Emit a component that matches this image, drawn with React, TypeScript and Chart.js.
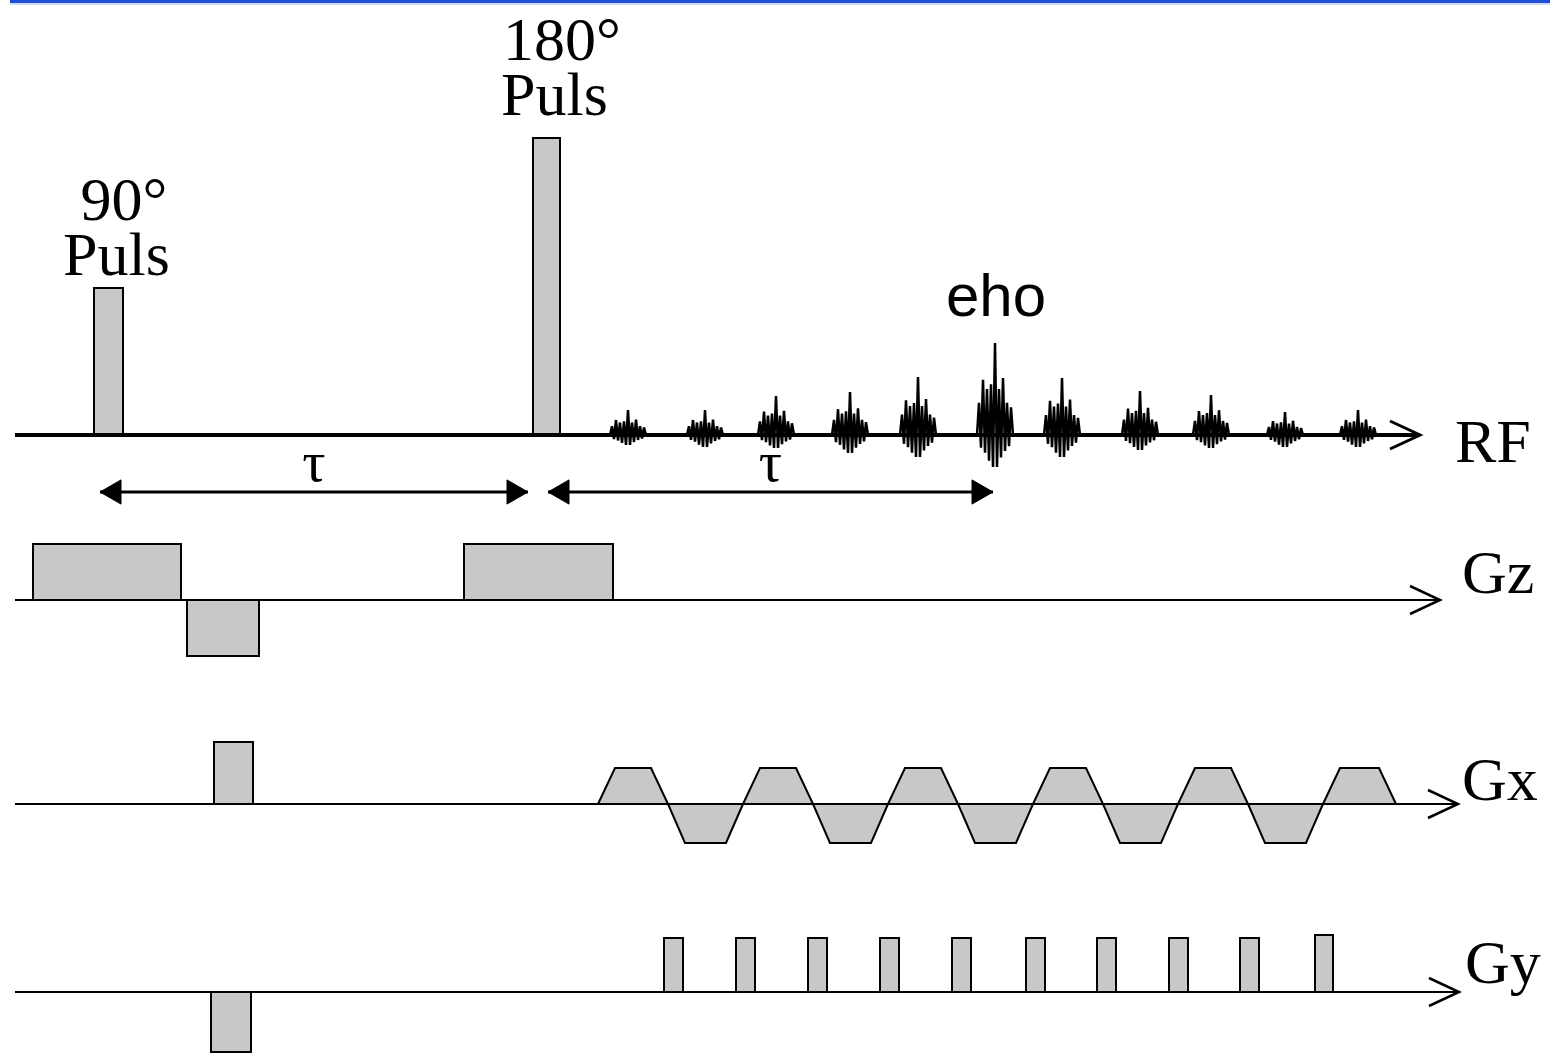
import React, { useEffect, useRef } from 'react';
import { Chart, registerables } from 'chart.js';

Chart.register(...registerables);

const W = 1550;
const H = 1054;

// ---- rows (layout) ----
const ROW_NAMES = ['RF', 'Gz', 'Gx', 'Gy'];
const ROW_BASELINES = [435, 600, 804, 992];
const AXIS_START = 15;
const AXIS_ENDS = [1420, 1440, 1458, 1459];

// ---- RF pulses ----
const RF_PULSE_NAMES = ['90°', '180°'];
const RF_PULSE_START = [94, 533];
const RF_PULSE_END = [123, 560];
const RF_PULSE_AMP = [147, 297];

// ---- echo train ----
const ECHO_LABEL = 'eho';
const ECHO_CENTERS = [628, 705, 776, 850, 918, 995, 1062, 1140, 1211, 1285, 1358];
const ECHO_UP = [25, 25, 39, 43, 58, 92, 57, 44, 40, 23, 25];
const ECHO_DOWN = [10, 12, 13, 18, 22, 32, 22, 15, 13, 12, 12];
const ECHO_OFFSETS = [-18, -16, -14, -12, -10, -8, -6, -4, -2, 0, 2, 4, 6, 8, 10, 12, 14, 16, 18];
const ECHO_SHAPE = [0, 0.35, -0.4, 0.6, -0.55, 0.5, -0.8, 0.55, -1, 1, -1, 0.5, -0.7, 0.62, -0.5, 0.35, -0.35, 0.3, 0];

// ---- tau intervals ----
const TAU_LABEL = 'τ';
const TAU_START = [100, 548];
const TAU_END = [528, 993];

// ---- Gz ----
const GZ_START = [33, 187, 464];
const GZ_END = [181, 259, 613];
const GZ_AMP = [56, -56, 56];

// ---- Gx ----
const GX_PRE_START = [214];
const GX_PRE_END = [253];
const GX_PRE_AMP = [62];
const GX_LOBE_START = [598, 668, 743, 813, 888, 958, 1033, 1103, 1178, 1248, 1323];
const GX_LOBE_END = [668, 743, 813, 888, 958, 1033, 1103, 1178, 1248, 1323, 1396];
const GX_LOBE_AMP = [36, -39, 36, -39, 36, -39, 36, -39, 36, -39, 36];
const GX_RAMP = 17;

// ---- Gy ----
const GY_START = [211, 664, 736, 808, 880, 952, 1026, 1097, 1169, 1240, 1315];
const GY_END = [251, 683, 755, 827, 899, 971, 1045, 1116, 1188, 1259, 1333];
const GY_AMP = [-60, 54, 54, 54, 54, 54, 54, 54, 54, 54, 57];

const GRAY = '#c8c8c8';
const SERIF = '"Liberation Serif", "Times New Roman", serif';
const SANS = '"Liberation Sans", Arial, sans-serif';

type P = { x: number; y: number };

function lineDs(data: P[], extra: any = {}) {
  return {
    type: 'line',
    data,
    borderColor: '#000',
    borderWidth: 2,
    pointRadius: 0,
    pointHoverRadius: 0,
    fill: false,
    tension: 0,
    borderJoinStyle: 'miter',
    ...extra,
  };
}

function rectDs(base: number, s: number, e: number, amp: number) {
  return lineDs(
    [
      { x: s, y: base },
      { x: s, y: base - amp },
      { x: e, y: base - amp },
      { x: e, y: base },
    ],
    { fill: { value: base }, backgroundColor: GRAY, borderWidth: 2 }
  );
}

const labelsPlugin = {
  id: 'seqLabels',
  beforeDraw(chart: any) {
    const { ctx } = chart;
    ctx.save();
    ctx.fillStyle = '#1f4fd6';
    ctx.fillRect(10, 0, W - 10, 3);
    ctx.fillStyle = 'rgba(60,110,230,0.25)';
    ctx.fillRect(10, 3, W - 10, 2);
    ctx.restore();
  },
  afterDatasetsDraw(chart: any) {
    const { ctx } = chart;
    const xs = chart.scales.x;
    const ys = chart.scales.y;
    ctx.save();
    ctx.fillStyle = '#000';
    ctx.textBaseline = 'alphabetic';

    // pulse labels
    const pulseLabelY = [
      [220, 275],
      [60, 115],
    ];
    ctx.font = `62px ${SERIF}`;
    RF_PULSE_NAMES.forEach((name, i) => {
      const cx = xs.getPixelForValue((RF_PULSE_START[i] + RF_PULSE_END[i]) / 2);
      const digits = name.replace('°', '');
      const dw = ctx.measureText(digits).width;
      ctx.textAlign = 'left';
      ctx.fillText(name, cx - dw / 2 + 3, pulseLabelY[i][0]);
      ctx.textAlign = 'center';
      ctx.fillText('Puls', cx + 8, pulseLabelY[i][1]);
    });

    // echo label above tallest echo
    let maxI = 0;
    ECHO_UP.forEach((v, i) => {
      if (v > ECHO_UP[maxI]) maxI = i;
    });
    ctx.font = `60px ${SANS}`;
    ctx.textAlign = 'center';
    ctx.fillText(ECHO_LABEL, xs.getPixelForValue(ECHO_CENTERS[maxI]) + 1, 316);

    // tau labels
    ctx.font = `58px ${SERIF}`;
    TAU_START.forEach((s, i) => {
      ctx.fillText(TAU_LABEL, xs.getPixelForValue((s + TAU_END[i]) / 2), 481);
    });

    // row labels
    ctx.font = `62px ${SERIF}`;
    ctx.textAlign = 'left';
    const rowLabelX = [1455, 1462, 1462, 1465];
    const rowLabelDy = [27, -7, -4, -9];
    ROW_NAMES.forEach((n, i) => {
      ctx.fillText(n, rowLabelX[i], ys.getPixelForValue(ROW_BASELINES[i]) + rowLabelDy[i]);
    });
    ctx.restore();
  },
};

export default function App() {
  const ref = useRef<HTMLCanvasElement | null>(null);

  useEffect(() => {
    if (!ref.current) return;
    const datasets: any[] = [];

    // axes (baselines + open arrowheads) - drawn on top of fills
    ROW_BASELINES.forEach((b, i) => {
      const lw = i === 0 ? 4 : 2;
      datasets.push(
        lineDs(
          [
            { x: AXIS_START, y: b },
            { x: AXIS_ENDS[i], y: b },
          ],
          { borderWidth: lw }
        )
      );
      datasets.push(
        lineDs(
          [
            { x: AXIS_ENDS[i] - 30, y: b - 14 },
            { x: AXIS_ENDS[i], y: b },
            { x: AXIS_ENDS[i] - 30, y: b + 14 },
          ],
          { borderWidth: i === 0 ? 3 : 2.5 }
        )
      );
    });

    // tau arrows
    TAU_START.forEach((s, i) => {
      const yv = ROW_BASELINES[0] + 57;
      datasets.push(
        lineDs(
          [
            { x: s, y: yv },
            { x: TAU_END[i], y: yv },
          ],
          { borderWidth: 3 }
        )
      );
      datasets.push({
        type: 'scatter',
        data: [
          { x: s + 14, y: yv },
          { x: TAU_END[i] - 14, y: yv },
        ],
        pointStyle: 'triangle',
        pointRadius: 14,
        pointHoverRadius: 14,
        pointRotation: [-90, 90],
        backgroundColor: '#000',
        borderColor: '#000',
        borderWidth: 1,
      });
    });

    // echoes
    ECHO_CENTERS.forEach((c, i) => {
      const b = ROW_BASELINES[0];
      const pts = ECHO_OFFSETS.map((o, k) => {
        const r = ECHO_SHAPE[k];
        return { x: c + o, y: r >= 0 ? b - r * ECHO_UP[i] : b - r * ECHO_DOWN[i] };
      });
      datasets.push(lineDs(pts, { borderWidth: 2.5, borderJoinStyle: 'bevel' }));
    });

    // RF pulses
    RF_PULSE_START.forEach((s, i) => {
      datasets.push(rectDs(ROW_BASELINES[0], s, RF_PULSE_END[i], RF_PULSE_AMP[i]));
    });

    // Gz
    GZ_START.forEach((s, i) => {
      datasets.push(rectDs(ROW_BASELINES[1], s, GZ_END[i], GZ_AMP[i]));
    });

    // Gx prephaser
    GX_PRE_START.forEach((s, i) => {
      datasets.push(rectDs(ROW_BASELINES[2], s, GX_PRE_END[i], GX_PRE_AMP[i]));
    });

    // Gx readout (trapezoids)
    {
      const b = ROW_BASELINES[2];
      const pts: P[] = [];
      GX_LOBE_START.forEach((s, i) => {
        const e = GX_LOBE_END[i];
        const a = GX_LOBE_AMP[i];
        if (i === 0) pts.push({ x: s, y: b });
        pts.push({ x: s + GX_RAMP, y: b - a });
        pts.push({ x: e - GX_RAMP, y: b - a });
        pts.push({ x: e, y: b });
      });
      datasets.push(lineDs(pts, { fill: { value: b }, backgroundColor: GRAY, borderWidth: 2 }));
    }

    // Gy
    GY_START.forEach((s, i) => {
      datasets.push(rectDs(ROW_BASELINES[3], s, GY_END[i], GY_AMP[i]));
    });

    const chart = new Chart(ref.current, {
      type: 'line',
      data: { datasets },
      options: {
        animation: false,
        responsive: false,
        maintainAspectRatio: false,
        devicePixelRatio: 1,
        events: [],
        layout: { padding: 0, autoPadding: false },
        plugins: {
          legend: { display: false },
          tooltip: { enabled: false },
          title: { display: false },
        },
        scales: {
          x: { type: 'linear', min: 0, max: W, display: false },
          y: { type: 'linear', min: 0, max: H, reverse: true, display: false },
        },
      } as any,
      plugins: [labelsPlugin as any],
    } as any);

    return () => chart.destroy();
  }, []);

  return (
    <div style={{ position: 'absolute', left: 0, top: 0, width: W, height: H, background: '#fff' }}>
      <canvas ref={ref} width={W} height={H} style={{ width: W, height: H, display: 'block' }} />
    </div>
  );
}
